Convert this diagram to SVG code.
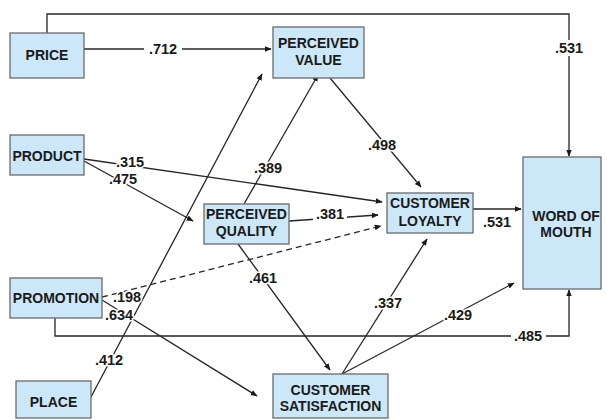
<svg xmlns="http://www.w3.org/2000/svg" width="607" height="420" viewBox="0 0 607 420">
<defs>
<marker id="ah" viewBox="0 0 10 10" refX="9" refY="5" markerWidth="7" markerHeight="7" markerUnits="userSpaceOnUse" orient="auto">
<path d="M0,1 L10,5 L0,9 z" fill="#1a1a1a"/>
</marker>
<style>
.box{fill:#cce8f8;stroke:#6a6a6a;stroke-width:1.3}
.nt{font-family:"Liberation Sans",Arial,sans-serif;font-size:14px;font-weight:bold;fill:#1a1a1a;text-anchor:middle}
.ln{fill:none;stroke:#262626;stroke-width:1.3}
.dash{stroke-dasharray:6 4}
.lb{font-family:"Liberation Sans",Arial,sans-serif;font-size:14.5px;font-weight:bold;fill:#1a1a1a;text-anchor:middle;stroke:#ffffff;stroke-width:3;paint-order:stroke;stroke-linejoin:round}
.bg{fill:#ffffff}
</style>
</defs>
<rect x="0" y="0" width="607" height="420" fill="#ffffff"/>

<g id="connectors">
<polyline class="ln" points="47,33 47,14 569,14 569,156" marker-end="url(#ah)"/>
<line class="ln" x1="84" y1="49" x2="271" y2="49" marker-end="url(#ah)"/>
<line class="ln" x1="84" y1="159" x2="382" y2="202" marker-end="url(#ah)"/>
<line class="ln" x1="84" y1="161" x2="193" y2="221" marker-end="url(#ah)"/>
<line class="ln" x1="91" y1="397" x2="262" y2="74" marker-end="url(#ah)"/>
<line class="ln" x1="244" y1="204" x2="318" y2="75" marker-end="url(#ah)"/>
<line class="ln" x1="330" y1="78" x2="421" y2="187" marker-end="url(#ah)"/>
<line class="ln" x1="289" y1="221" x2="378" y2="215" marker-end="url(#ah)"/>
<line class="ln dash" x1="102" y1="297" x2="381" y2="226" marker-end="url(#ah)"/>
<line class="ln" x1="102" y1="300" x2="257" y2="396" marker-end="url(#ah)"/>
<polyline class="ln" points="55,318 55,336 569,336 569,290" marker-end="url(#ah)"/>
<line class="ln" x1="238" y1="244" x2="330" y2="370" marker-end="url(#ah)"/>
<line class="ln" x1="342" y1="374" x2="427" y2="239" marker-end="url(#ah)"/>
<line class="ln" x1="342" y1="374" x2="514" y2="283" marker-end="url(#ah)"/>
<line class="ln" x1="473" y1="209" x2="521" y2="209" marker-end="url(#ah)"/>

<rect class="bg" x="144" y="41" width="38" height="16"/>
<rect class="bg" x="313" y="207" width="34" height="15"/>
<rect class="bg" x="511" y="329" width="35" height="15"/>
<rect class="bg" x="554" y="40" width="30" height="16"/>
<text class="lb" x="163" y="54">.712</text>
<text class="lb" x="569" y="53">.531</text>
<text class="lb" x="130" y="167">.315</text>
<text class="lb" x="123" y="184">.475</text>
<text class="lb" x="268" y="173">.389</text>
<text class="lb" x="382" y="150">.498</text>
<text class="lb" x="330" y="219">.381</text>
<text class="lb" x="127" y="302">.198</text>
<text class="lb" x="119" y="320">.634</text>
<text class="lb" x="263" y="283">.461</text>
<text class="lb" x="109" y="365">.412</text>
<text class="lb" x="388" y="308">.337</text>
<text class="lb" x="458" y="320">.429</text>
<text class="lb" x="528" y="341">.485</text>
<text class="lb" x="497" y="227">.531</text>
</g>

<g id="price">
<rect class="box" x="10" y="33" width="74" height="45"/>
<text class="nt" x="47" y="60">PRICE</text>
</g>
<g id="perceived-value">
<rect class="box" x="273" y="27" width="91" height="51"/>
<text class="nt" x="318.5" y="48">PERCEIVED</text>
<text class="nt" x="318.5" y="65">VALUE</text>
</g>
<g id="product">
<rect class="box" x="10" y="135" width="74" height="40"/>
<text class="nt" x="47" y="161">PRODUCT</text>
</g>
<g id="perceived-quality">
<rect class="box" x="204" y="204" width="85" height="40"/>
<text class="nt" x="246.5" y="219">PERCEIVED</text>
<text class="nt" x="246.5" y="236">QUALITY</text>
</g>
<g id="customer-loyalty">
<rect class="box" x="387" y="193" width="86" height="40"/>
<text class="nt" x="430" y="208">CUSTOMER</text>
<text class="nt" x="430" y="226">LOYALTY</text>
</g>
<g id="word-of-mouth">
<rect class="box" x="523" y="157" width="78" height="132"/>
<text class="nt" x="566" y="221">WORD OF</text>
<text class="nt" x="566" y="237">MOUTH</text>
</g>
<g id="promotion">
<rect class="box" x="10" y="278" width="92" height="40"/>
<text class="nt" x="56" y="303">PROMOTION</text>
</g>
<g id="place">
<rect class="box" x="16" y="381" width="75" height="37"/>
<text class="nt" x="53.5" y="407">PLACE</text>
</g>
<g id="customer-satisfaction">
<rect class="box" x="273" y="374" width="115" height="44"/>
<text class="nt" x="330.5" y="395">CUSTOMER</text>
<text class="nt" x="330.5" y="411">SATISFACTION</text>
</g>
</svg>
